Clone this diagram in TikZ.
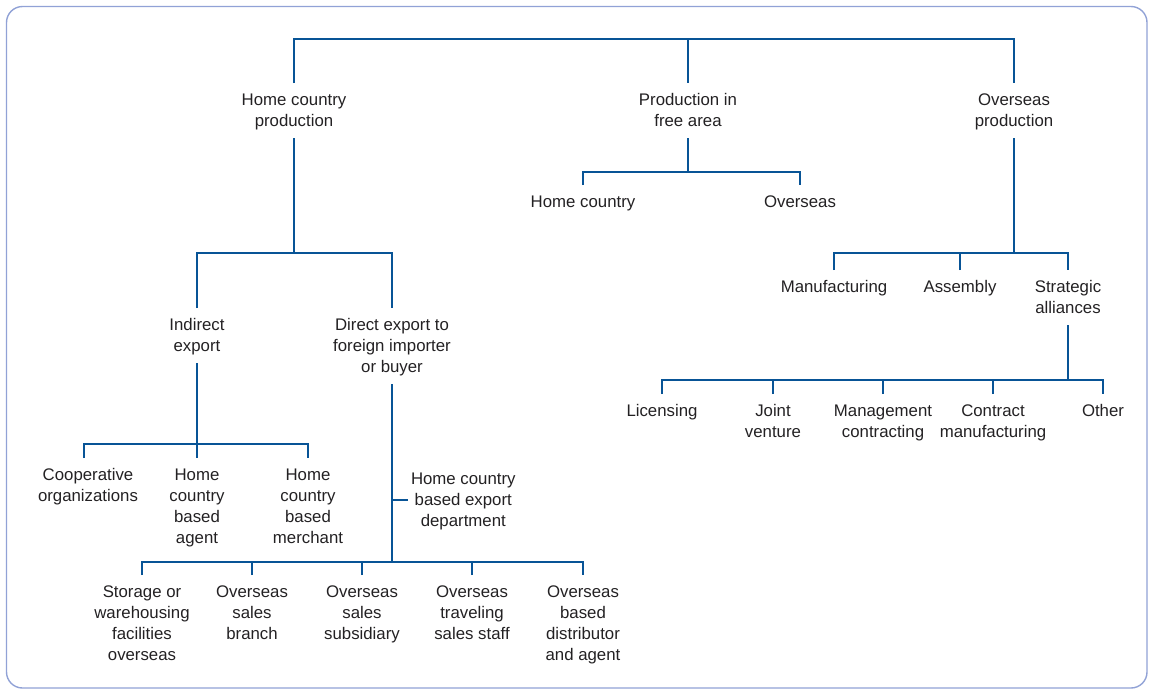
\documentclass[tikz,border=0pt]{standalone}
\usepackage{fontspec}
\setmainfont{Liberation Sans}
\usetikzlibrary{calc}
\definecolor{linkblue}{RGB}{8,84,150}
\definecolor{txtgray}{RGB}{35,33,35}
\definecolor{framecol}{RGB}{145,162,214}
\newcommand{\topstrut}{\rule{0pt}{18pt}}
\newcommand{\botstrut}{\rule[-8pt]{0pt}{8pt}}
\newcommand{\lb}[1]{\topstrut#1\botstrut}
\tikzset{
  lbl/.style={font=\fontsize{16.8}{21}\selectfont, align=center, anchor=north,
    inner xsep=3pt, inner ysep=4pt, outer sep=0pt, text=txtgray},
  link/.style={draw=linkblue, line width=2.8pt, line join=miter}
}
\begin{document}
\begin{tikzpicture}[x=1pt,y=-1pt]
\useasboundingbox (0,0) rectangle (1153,694);
\draw[framecol, line width=1.4pt, rounded corners=16pt] (6.5,6.5) rectangle (1147,688);

% level 1
\node[lbl] (hcp) at (294,83) {\lb{Home country\\production}};
\node[lbl] (pfa) at (688,83) {\lb{Production in\\free area}};
\node[lbl] (op)  at (1014,83) {\lb{Overseas\\production}};
% free area
\node[lbl] (hc) at (583,185) {\lb{Home country}};
\node[lbl] (ov) at (800,185) {\lb{Overseas}};
% home country production
\node[lbl] (ie) at (197,308) {\lb{Indirect\\export}};
\node[lbl] (de) at (392,308) {\lb{Direct export to\\foreign importer\\or buyer}};
\node[lbl] (co)  at (88,458) {\lb{Cooperative\\organizations}};
\node[lbl] (hca) at (197,458) {\lb{Home\\country\\based\\agent}};
\node[lbl] (hcm) at (308,458) {\lb{Home\\country\\based\\merchant}};
\node[lbl, anchor=west] (hced) at (408,500) {\lb{Home country\\based export\\department}};
\node[lbl] (st)  at (142,575) {\lb{Storage or\\warehousing\\facilities\\overseas}};
\node[lbl] (osb) at (252,575) {\lb{Overseas\\sales\\branch}};
\node[lbl] (oss) at (362,575) {\lb{Overseas\\sales\\subsidiary}};
\node[lbl] (ots) at (472,575) {\lb{Overseas\\traveling\\sales staff}};
\node[lbl] (obd) at (583,575) {\lb{Overseas\\based\\distributor\\and agent}};
% overseas production
\node[lbl] (mf) at (834,270) {\lb{Manufacturing}};
\node[lbl] (as) at (960,270) {\lb{Assembly}};
\node[lbl] (sa) at (1068,270) {\lb{Strategic\\alliances}};
\node[lbl] (lic) at (662,394) {\lb{Licensing}};
\node[lbl] (jv)  at (773,394) {\lb{Joint\\venture}};
\node[lbl] (mc)  at (883,394) {\lb{Management\\contracting}};
\node[lbl] (cm)  at (993,394) {\lb{Contract\\manufacturing}};
\node[lbl] (oth) at (1103,394) {\lb{Other}};

% junction coordinates
\coordinate (t0) at (688,39);
\coordinate (b1) at (688,172);
\coordinate (b2) at (294,253);
\coordinate (b3) at (197,444);
\coordinate (b4) at (392,562);
\coordinate (b5) at (1014,253);
\coordinate (b6) at (1068,380);

% connectors
\draw[link] (hcp.north) |- (t0) -| (op.north);
\draw[link] (t0) -- (pfa.north);

\draw[link] (pfa.south) -- (b1);
\draw[link] (hc.north) |- (b1) -| (ov.north);

\draw[link] (hcp.south) -- (b2);
\draw[link] (ie.north) |- (b2) -| (de.north);

\draw[link] (ie.south) -- (b3);
\draw[link] ($(co.north)+(-4,0)$) |- (b3) -| (hcm.north);
\draw[link] (b3) -- (hca.north);

\draw[link] (de.south) -- (b4);
\draw[link] (hced.west -| b4) -- (hced.west);
\draw[link] (st.north) |- (b4) -| (obd.north);
\draw[link] (osb.north) -- (osb.north |- b4);
\draw[link] (oss.north) -- (oss.north |- b4);
\draw[link] (ots.north) -- (ots.north |- b4);

\draw[link] (op.south) -- (b5);
\draw[link] (mf.north) |- (b5) -| (sa.north);
\draw[link] (as.north) -- (as.north |- b5);

\draw[link] (sa.south) -- (b6);
\draw[link] (lic.north) |- (b6) -| (oth.north);
\draw[link] (jv.north) -- (jv.north |- b6);
\draw[link] (mc.north) -- (mc.north |- b6);
\draw[link] (cm.north) -- (cm.north |- b6);
\end{tikzpicture}
\end{document}
